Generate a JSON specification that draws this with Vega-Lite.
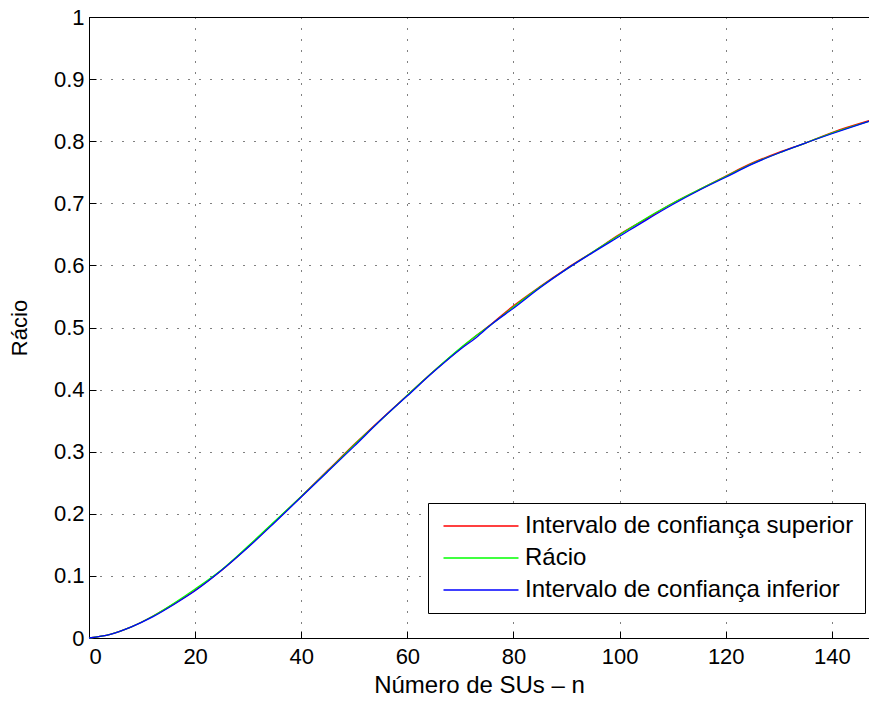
{
  "$schema": "https://vega.github.io/schema/vega-lite/v6.json",
  "width": 780,
  "height": 621,
  "autosize": {"type": "none"},
  "padding": {"left": 89, "top": 17, "right": 0, "bottom": 63},
  "background": "white",
  "config": {
    "font": "Liberation Sans",
    "view": {"stroke": "black", "strokeWidth": 1},
    "axis": {
      "domainColor": "black", "tickColor": "black", "labelColor": "black", "titleColor": "black",
      "gridColor": "black", "gridDash": [1, 10], "gridWidth": 1, "gridOpacity": 1,
      "labelFont": "Liberation Sans", "titleFont": "Liberation Sans",
      "labelFontSize": 22, "titleFontSize": 22, "titleFontWeight": "normal",
      "tickSize": -7, "labelPadding": 12
    }
  },
  "datasets": {
    "pts": [
      {"n": 0, "s": "Intervalo de confiança superior", "v": 0.0},
      {"n": 4, "s": "Intervalo de confiança superior", "v": 0.006},
      {"n": 8, "s": "Intervalo de confiança superior", "v": 0.018},
      {"n": 12, "s": "Intervalo de confiança superior", "v": 0.035},
      {"n": 16, "s": "Intervalo de confiança superior", "v": 0.055},
      {"n": 20, "s": "Intervalo de confiança superior", "v": 0.077},
      {"n": 25, "s": "Intervalo de confiança superior", "v": 0.109},
      {"n": 30, "s": "Intervalo de confiança superior", "v": 0.147},
      {"n": 35, "s": "Intervalo de confiança superior", "v": 0.187},
      {"n": 40, "s": "Intervalo de confiança superior", "v": 0.228},
      {"n": 45, "s": "Intervalo de confiança superior", "v": 0.270},
      {"n": 50, "s": "Intervalo de confiança superior", "v": 0.312},
      {"n": 55, "s": "Intervalo de confiança superior", "v": 0.352},
      {"n": 60, "s": "Intervalo de confiança superior", "v": 0.391},
      {"n": 65, "s": "Intervalo de confiança superior", "v": 0.430},
      {"n": 70, "s": "Intervalo de confiança superior", "v": 0.466},
      {"n": 73, "s": "Intervalo de confiança superior", "v": 0.487},
      {"n": 76, "s": "Intervalo de confiança superior", "v": 0.507},
      {"n": 80, "s": "Intervalo de confiança superior", "v": 0.535},
      {"n": 85, "s": "Intervalo de confiança superior", "v": 0.566},
      {"n": 90, "s": "Intervalo de confiança superior", "v": 0.595},
      {"n": 95, "s": "Intervalo de confiança superior", "v": 0.622},
      {"n": 100, "s": "Intervalo de confiança superior", "v": 0.650},
      {"n": 105, "s": "Intervalo de confiança superior", "v": 0.675},
      {"n": 110, "s": "Intervalo de confiança superior", "v": 0.700},
      {"n": 115, "s": "Intervalo de confiança superior", "v": 0.722},
      {"n": 120, "s": "Intervalo de confiança superior", "v": 0.744},
      {"n": 125, "s": "Intervalo de confiança superior", "v": 0.765},
      {"n": 130, "s": "Intervalo de confiança superior", "v": 0.782},
      {"n": 135, "s": "Intervalo de confiança superior", "v": 0.797},
      {"n": 140, "s": "Intervalo de confiança superior", "v": 0.814},
      {"n": 147, "s": "Intervalo de confiança superior", "v": 0.833},

      {"n": 0, "s": "Rácio", "v": 0.0},
      {"n": 4, "s": "Rácio", "v": 0.006},
      {"n": 8, "s": "Rácio", "v": 0.018},
      {"n": 12, "s": "Rácio", "v": 0.035},
      {"n": 16, "s": "Rácio", "v": 0.056},
      {"n": 20, "s": "Rácio", "v": 0.079},
      {"n": 25, "s": "Rácio", "v": 0.110},
      {"n": 30, "s": "Rácio", "v": 0.148},
      {"n": 35, "s": "Rácio", "v": 0.188},
      {"n": 40, "s": "Rácio", "v": 0.228},
      {"n": 45, "s": "Rácio", "v": 0.269},
      {"n": 50, "s": "Rácio", "v": 0.311},
      {"n": 55, "s": "Rácio", "v": 0.351},
      {"n": 60, "s": "Rácio", "v": 0.391},
      {"n": 65, "s": "Rácio", "v": 0.430},
      {"n": 70, "s": "Rácio", "v": 0.467},
      {"n": 73, "s": "Rácio", "v": 0.487},
      {"n": 76, "s": "Rácio", "v": 0.506},
      {"n": 80, "s": "Rácio", "v": 0.533},
      {"n": 85, "s": "Rácio", "v": 0.565},
      {"n": 90, "s": "Rácio", "v": 0.594},
      {"n": 95, "s": "Rácio", "v": 0.622},
      {"n": 100, "s": "Rácio", "v": 0.649},
      {"n": 105, "s": "Rácio", "v": 0.676},
      {"n": 110, "s": "Rácio", "v": 0.700},
      {"n": 115, "s": "Rácio", "v": 0.722},
      {"n": 120, "s": "Rácio", "v": 0.743},
      {"n": 125, "s": "Rácio", "v": 0.764},
      {"n": 130, "s": "Rácio", "v": 0.781},
      {"n": 135, "s": "Rácio", "v": 0.797},
      {"n": 140, "s": "Rácio", "v": 0.813},
      {"n": 147, "s": "Rácio", "v": 0.832},

      {"n": 0, "s": "Intervalo de confiança inferior", "v": 0.0},
      {"n": 4, "s": "Intervalo de confiança inferior", "v": 0.006},
      {"n": 8, "s": "Intervalo de confiança inferior", "v": 0.018},
      {"n": 12, "s": "Intervalo de confiança inferior", "v": 0.034},
      {"n": 16, "s": "Intervalo de confiança inferior", "v": 0.054},
      {"n": 20, "s": "Intervalo de confiança inferior", "v": 0.076},
      {"n": 25, "s": "Intervalo de confiança inferior", "v": 0.109},
      {"n": 30, "s": "Intervalo de confiança inferior", "v": 0.146},
      {"n": 35, "s": "Intervalo de confiança inferior", "v": 0.186},
      {"n": 40, "s": "Intervalo de confiança inferior", "v": 0.227},
      {"n": 45, "s": "Intervalo de confiança inferior", "v": 0.268},
      {"n": 50, "s": "Intervalo de confiança inferior", "v": 0.309},
      {"n": 55, "s": "Intervalo de confiança inferior", "v": 0.351},
      {"n": 60, "s": "Intervalo de confiança inferior", "v": 0.390},
      {"n": 65, "s": "Intervalo de confiança inferior", "v": 0.429},
      {"n": 70, "s": "Intervalo de confiança inferior", "v": 0.465},
      {"n": 73, "s": "Intervalo de confiança inferior", "v": 0.484},
      {"n": 76, "s": "Intervalo de confiança inferior", "v": 0.506},
      {"n": 80, "s": "Intervalo de confiança inferior", "v": 0.531},
      {"n": 85, "s": "Intervalo de confiança inferior", "v": 0.564},
      {"n": 90, "s": "Intervalo de confiança inferior", "v": 0.594},
      {"n": 95, "s": "Intervalo de confiança inferior", "v": 0.621},
      {"n": 100, "s": "Intervalo de confiança inferior", "v": 0.647},
      {"n": 105, "s": "Intervalo de confiança inferior", "v": 0.673},
      {"n": 110, "s": "Intervalo de confiança inferior", "v": 0.698},
      {"n": 115, "s": "Intervalo de confiança inferior", "v": 0.721},
      {"n": 120, "s": "Intervalo de confiança inferior", "v": 0.742},
      {"n": 125, "s": "Intervalo de confiança inferior", "v": 0.763},
      {"n": 130, "s": "Intervalo de confiança inferior", "v": 0.781},
      {"n": 135, "s": "Intervalo de confiança inferior", "v": 0.797},
      {"n": 140, "s": "Intervalo de confiança inferior", "v": 0.812},
      {"n": 147, "s": "Intervalo de confiança inferior", "v": 0.832}
    ]
  },
  "data": {"name": "pts"},
  "layer": [
    {
      "mark": {"type": "line", "strokeWidth": 1.3, "interpolate": "monotone"},
      "encoding": {
        "x": {
          "field": "n", "type": "quantitative",
          "scale": {"domain": [0, 147], "nice": false, "zero": false},
          "axis": {"title": "Número de SUs – n", "values": [0, 20, 40, 60, 80, 100, 120, 140], "labelPadding": 15, "titleFontSize": 24, "titlePadding": 6, "grid": true}
        },
        "y": {
          "field": "v", "type": "quantitative",
          "scale": {"domain": [0, 1], "nice": false},
          "axis": {"title": "Rácio", "values": [0, 0.1, 0.2, 0.3, 0.4, 0.5, 0.6, 0.7, 0.8, 0.9, 1], "format": "~g", "titlePadding": 22, "grid": true}
        },
        "color": {
          "field": "s", "type": "nominal",
          "sort": ["Intervalo de confiança superior", "Rácio", "Intervalo de confiança inferior"],
          "scale": {"domain": ["Intervalo de confiança superior", "Rácio", "Intervalo de confiança inferior"], "range": ["#ff0000", "#00ff00", "#0000ff"]},
          "legend": {
            "title": null, "orient": "none", "legendX": 339, "legendY": 486,
            "symbolType": "M-1,0H9", "symbolSize": 225, "symbolStrokeWidth": 1.3,
            "labelFontSize": 24, "labelFont": "Liberation Sans", "labelColor": "black",
            "strokeColor": "black", "fillColor": "white", "padding": 11, "labelOffset": 62,
            "labelLimit": 500, "rowPadding": 8
          }
        },
        "order": {"field": "s", "type": "nominal"}
      }
    }
  ]
}
